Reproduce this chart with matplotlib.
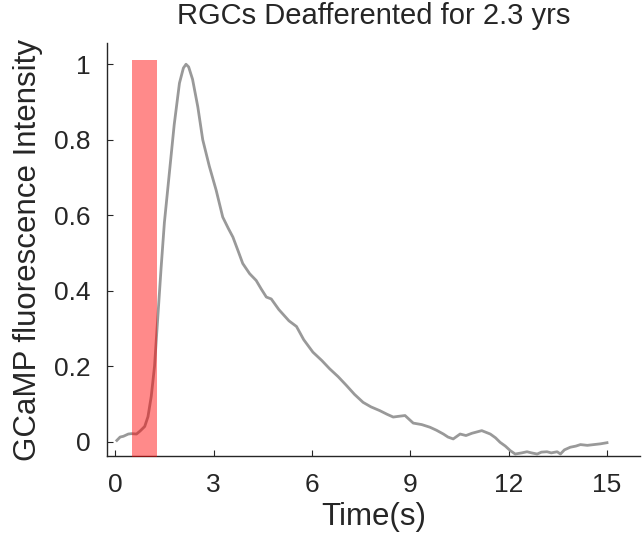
import matplotlib
matplotlib.use("Agg")
import matplotlib.pyplot as plt

# trace
time_s = [0.05, 0.15, 0.25, 0.4, 0.5, 0.65, 0.76, 0.9, 1.0, 1.1, 1.2, 1.3, 1.4,
          1.5, 1.65, 1.8, 1.96, 2.08, 2.16, 2.24, 2.36, 2.52, 2.67, 2.87, 3.08,
          3.28, 3.45, 3.59, 3.75, 3.89, 4.1, 4.3, 4.45, 4.61, 4.76, 4.99, 5.3,
          5.53, 5.75, 6.03, 6.3, 6.54, 6.8, 7.05, 7.3, 7.56, 7.8, 8.07, 8.3,
          8.48, 8.65, 8.84, 9.09, 9.35, 9.6, 9.8, 10.01, 10.15, 10.31, 10.52,
          10.7, 10.88, 11.18, 11.44, 11.6, 11.74, 11.9, 12.05, 12.2, 12.4,
          12.56, 12.7, 12.87, 13.0, 13.17, 13.3, 13.48, 13.58, 13.7, 13.88,
          14.05, 14.19, 14.4, 14.6, 14.8, 15.0]
intensity = [0.003, 0.012, 0.014, 0.02, 0.021, 0.02, 0.028, 0.04, 0.066, 0.12,
             0.2, 0.33, 0.46, 0.58, 0.71, 0.84, 0.95, 0.99, 1.0, 0.993, 0.96,
             0.887, 0.80, 0.73, 0.666, 0.595, 0.565, 0.542, 0.505, 0.472, 0.445,
             0.427, 0.405, 0.383, 0.378, 0.35, 0.32, 0.305, 0.27, 0.237, 0.215,
             0.193, 0.172, 0.149, 0.125, 0.104, 0.092, 0.082, 0.072, 0.065,
             0.067, 0.069, 0.049, 0.045, 0.038, 0.03, 0.02, 0.012, 0.007, 0.02,
             0.016, 0.022, 0.029, 0.02, 0.01, -0.002, -0.012, -0.024, -0.033,
             -0.03, -0.027, -0.03, -0.033, -0.028, -0.027, -0.03, -0.027,
             -0.033, -0.022, -0.015, -0.012, -0.008, -0.01, -0.008, -0.006,
             -0.003]

stim_start, stim_end, stim_top = 0.5, 1.27, 1.01
xticks = [0, 3, 6, 9, 12, 15]
yticks = [0, 0.2, 0.4, 0.6, 0.8, 1]
yticklabels = ['0', '0.2', '0.4', '0.6', '0.8', '1']

plt.rcParams['font.family'] = ['Liberation Sans', 'DejaVu Sans']
txt = '#262626'

fig = plt.figure(figsize=(6.43, 5.46), dpi=100)
ax = fig.add_axes([0.1664, 0.165, 0.8286, 0.756])

ax.plot(time_s, intensity, color='#999999', linewidth=2.0, zorder=2)
ax.fill_between([stim_start, stim_end], -0.1, stim_top, color='red',
                alpha=0.46, linewidth=0, zorder=3)

ax.set_xlim(-0.25, 16)
ax.set_ylim(-0.038, 1.056)
ax.set_xticks(xticks)
ax.set_yticks(yticks)
ax.set_yticklabels(yticklabels)

for s in ['top', 'right']:
    ax.spines[s].set_visible(False)
for s in ['left', 'bottom']:
    ax.spines[s].set_color(txt)
    ax.spines[s].set_linewidth(1.0)

ax.tick_params(direction='in', length=4, width=0.8, colors=txt,
               labelsize=19, labelcolor=txt, pad=12)

ax.set_xlabel('Time(s)', fontsize=22.5, color=txt, labelpad=4)
ax.set_ylabel('GCaMP fluorescence Intensity', fontsize=22.5, color=txt, labelpad=8)
ax.set_title('RGCs Deafferented for 2.3 yrs', fontsize=21, color=txt, pad=14)

plt.savefig('out.png', dpi=100)
